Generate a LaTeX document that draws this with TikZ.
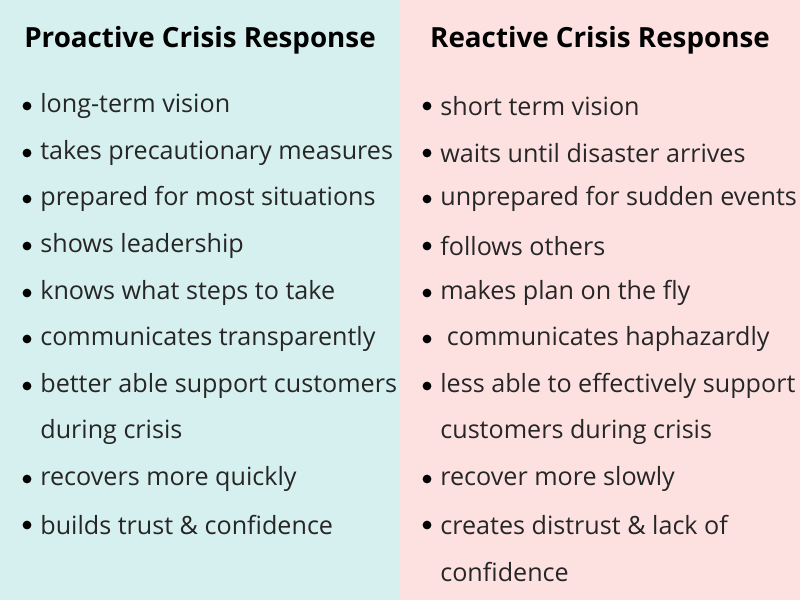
\documentclass[tikz,border=0pt]{standalone}
\usepackage{fontspec}
\setmainfont{Open Sans}
\usetikzlibrary{positioning}
\definecolor{proBg}{HTML}{D5F0EE}
\definecolor{reBg}{HTML}{FDE1E1}
\tikzset{title/.style={font=\fontsize{15.8}{19}\selectfont\bfseries, text=black},
	item/.style={anchor=west, inner sep=0pt, font=\fontsize{14.3}{17}\selectfont, text=black!85},
	dot/.style={circle, fill=black, inner sep=0pt, minimum size=5pt}}
\begin{document}
\begin{tikzpicture}
			\useasboundingbox (0,0) rectangle (16,-12);
			\fill[proBg] (0,0) rectangle (8,-12);
			\fill[reBg] (8,0) rectangle (16,-12);
			
			\node[title] (proTitle) at (4,-0.8) {Proactive Crisis Response};
			\node[title] (reTitle) at (12,-0.8) {Reactive Crisis Response};
			
			% proactive items
			\foreach \y/\t [count=\i] in {2.12/long-term vision, 3.06/takes precautionary measures,
				3.98/prepared for most situations, 4.92/shows leadership, 5.86/knows what steps to take,
				6.78/communicates transparently, 7.72/better able support customers,
				9.58/recovers more quickly, 10.50/builds trust \& confidence}
			{
				\node[dot] (proDot\i) at (0.54,-\y) {};
				\node[item] (proItem\i) at (0.8,-\y) {\t};
			}
			\node[item] (proCont) at (0.8,-8.64) {during crisis};
			
			% reactive items
			\foreach \y/\t [count=\i] in {2.12/short term vision, 3.06/waits until disaster arrives,
				3.98/unprepared for sudden events, 4.92/follows others, 5.86/makes plan on the fly,
				6.78/\ communicates haphazardly, 7.72/less able to effectively support,
				9.58/recover more slowly, 10.50/creates distrust \& lack of}
			{
				\node[dot] (reDot\i) at (8.54,-\y) {};
				\node[item] (reItem\i) at (8.8,-\y) {\t};
			}
			\node[item] (reContA) at (8.8,-8.64) {customers during crisis};
			\node[item] (reContB) at (8.8,-11.44) {confidence};
\end{tikzpicture}
\end{document}
